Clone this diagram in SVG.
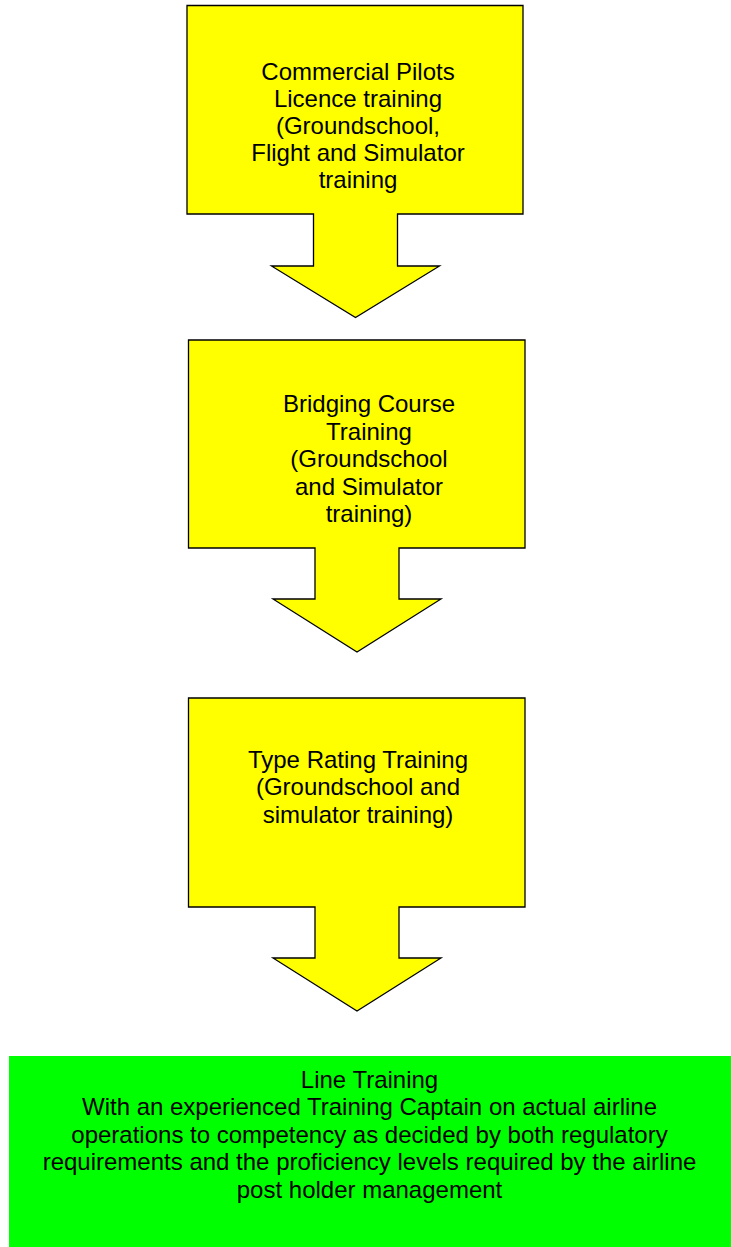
<svg xmlns="http://www.w3.org/2000/svg" width="731" height="1247" viewBox="0 0 731 1247">
<style>
.arrow{fill:#ffff00;stroke:#000;stroke-width:1.3;stroke-linejoin:miter}
.t{font-family:"Liberation Sans",Arial,sans-serif;font-size:24px;fill:#000;text-anchor:middle}
</style>
<rect width="731" height="1247" fill="#fff"/>
<g id="node-cpl">
<path class="arrow" d="M187,5.5 H523 V214 H397.5 V266 H439.5 L355.5,317.5 L271.5,266 H313.5 V214 H187 Z"/>
<text class="t" x="358" y="80">Commercial Pilots</text>
<text class="t" x="358" y="107">Licence training</text>
<text class="t" x="358" y="134">(Groundschool,</text>
<text class="t" x="358" y="161">Flight and Simulator</text>
<text class="t" x="358" y="188">training</text>
</g>
<g id="node-bridging">
<path class="arrow" d="M188.5,340 H525 V548 H399 V599 H441 L357,652 L273,599 H315 V548 H188.5 Z"/>
<text class="t" x="369" y="412">Bridging Course</text>
<text class="t" x="369" y="439.5">Training</text>
<text class="t" x="369" y="467">(Groundschool</text>
<text class="t" x="369" y="494.5">and Simulator</text>
<text class="t" x="369" y="522">training)</text>
</g>
<g id="node-typerating">
<path class="arrow" d="M188.5,698 H525 V907 H399 V958 H441 L357,1011 L273,958 H315 V907 H188.5 Z"/>
<text class="t" x="358" y="767.5">Type Rating Training</text>
<text class="t" x="358" y="795">(Groundschool and</text>
<text class="t" x="358" y="822.5">simulator training)</text>
</g>
<g id="connectors"></g>
<g id="node-line">
<rect x="9" y="1056" width="722" height="191" fill="#00ff00"/>
<text class="t" x="369.5" y="1087.5">Line Training</text>
<text class="t" x="369.5" y="1115">With an experienced Training Captain on actual airline</text>
<text class="t" x="369.5" y="1142.5">operations to competency as decided by both regulatory</text>
<text class="t" x="369.5" y="1170">requirements and the proficiency levels required by the airline</text>
<text class="t" x="369.5" y="1197.5">post holder management</text>
</g>
</svg>
